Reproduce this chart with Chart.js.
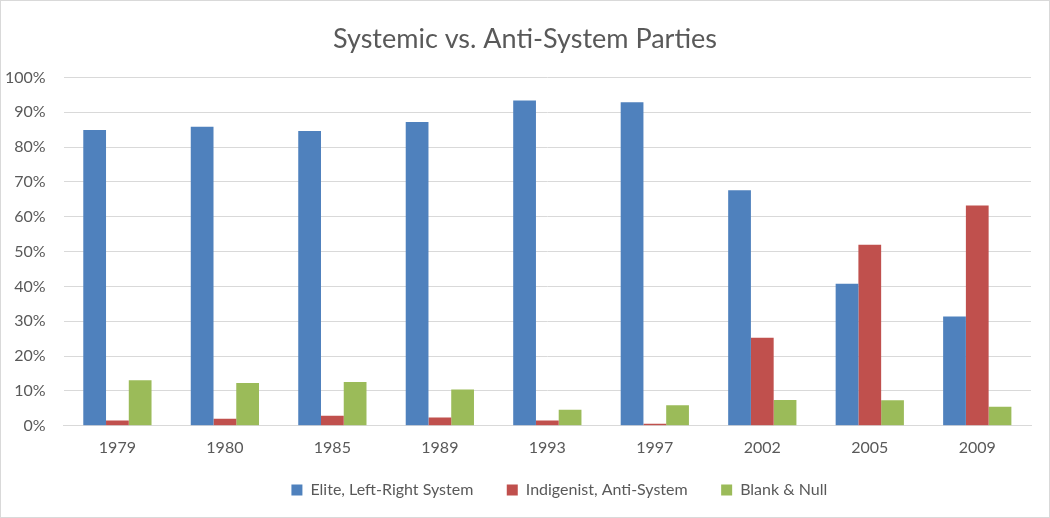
<!DOCTYPE html>
<html>
<head>
<meta charset="utf-8">
<script src="https://cdn.jsdelivr.net/npm/chart.js@4"></script>
<style>
  body { margin: 0; background: #fff; }
  #wrap { width: 1048px; height: 516px; border: 1px solid #d9d9d9; }
</style>
</head>
<body>
<div id="wrap"><canvas id="chart" width="1048" height="516"></canvas></div>
<script>

// years on the x axis
var years = ['1979', '1980', '1985', '1989', '1993', '1997', '2002', '2005', '2009'];

// vote share, percent
var elite = [84.9, 85.8, 84.6, 87.2, 93.4, 92.9, 67.6, 40.8, 31.4];
var indigenist = [1.5, 2.0, 2.9, 2.4, 1.5, 0.6, 25.3, 52.0, 63.2];
var blankNull = [13.1, 12.3, 12.6, 10.4, 4.6, 5.9, 7.4, 7.3, 5.5];

var seriesNames = ['Elite, Left-Right System', 'Indigenist, Anti-System', 'Blank & Null'];

var yTicks = [0, 10, 20, 30, 40, 50, 60, 70, 80, 90, 100];

var textGrey = '#595959';
var fontFamily = 'Lato, "Open Sans", sans-serif';

function makeSet(label, values, color) {
  return {
    label: label,
    data: values,
    backgroundColor: color,
    borderWidth: 0
  };
}

//
// The negative left padding pulls the title off-centre, and Excel puts the
// legend a bit right of the plot centre.  Nudge both after layout.
//
var nudgeBoxes = {
  id: 'nudgeBoxes',
  afterLayout: function (chart) {
    chart.titleBlock.left += 16;
    chart.titleBlock.right += 16;
    chart.legend.left += 12;
    chart.legend.right += 12;
  }
};

var ctx = document.getElementById('chart').getContext('2d');

new Chart(ctx, {
  type: 'bar',
  data: {
    labels: years,
    datasets: [
      makeSet(seriesNames[0], elite, '#4f81bd'),
      makeSet(seriesNames[1], indigenist, '#c0504d'),
      makeSet(seriesNames[2], blankNull, '#9bbb59')
    ]
  },
  plugins: [nudgeBoxes],
  options: {
    responsive: false,
    animation: false,
    datasets: {
      bar: { categoryPercentage: 0.635, barPercentage: 1.0 }
    },
    layout: { padding: { left: -14, right: 18, top: 12, bottom: 9 } },
    plugins: {
      title: {
        display: true,
        text: 'Systemic vs. Anti-System Parties',
        color: textGrey,
        font: { family: fontFamily, size: 27, weight: 'normal' },
        padding: { top: 10, bottom: 22 }
      },
      legend: {
        position: 'bottom',
        fullSize: false,
        labels: {
          color: textGrey,
          font: { family: fontFamily, size: 16 },
          boxWidth: 11,
          boxHeight: 11,
          padding: 13,
          // extra room between the items, like the Excel legend
          generateLabels: function (chart) {
            var items = Chart.defaults.plugins.legend.labels.generateLabels(chart);
            items.forEach(function (it, i) {
              if (i < items.length - 1) it.text = it.text + '     ';
            });
            return items;
          }
        }
      },
      tooltip: { enabled: false }
    },
    scales: {
      x: {
        grid: { display: false, drawTicks: false },
        border: { color: '#d9d9d9', width: 1 },
        ticks: {
          color: textGrey,
          font: { family: fontFamily, size: 16 },
          padding: 12
        }
      },
      y: {
        min: 0,
        max: 100,
        afterBuildTicks: function (axis) {
          axis.ticks = yTicks.map(function (v) { return { value: v }; });
        },
        grid: { color: '#d9d9d9', lineWidth: 1, drawTicks: false },
        border: { display: false },
        ticks: {
          color: textGrey,
          font: { family: fontFamily, size: 16 },
          padding: 18,
          callback: function (v) { return v + '%'; }
        }
      }
    }
  }
});
</script>
</body>
</html>
